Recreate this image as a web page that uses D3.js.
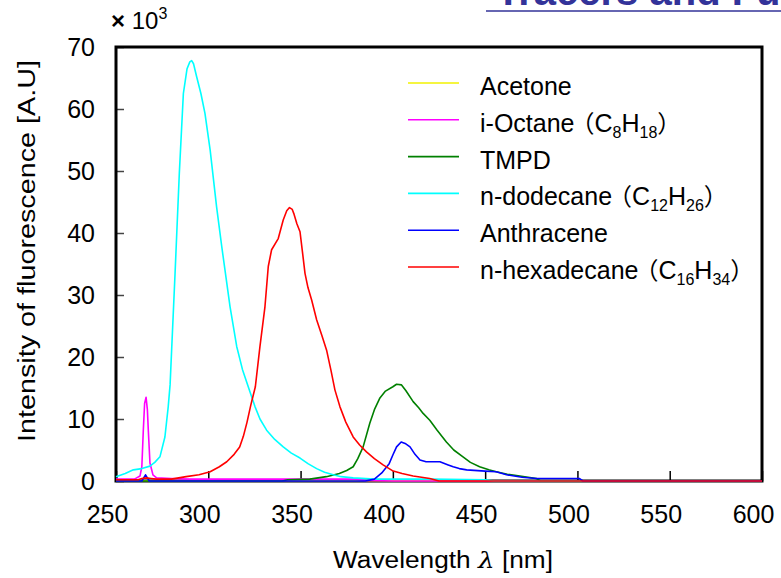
<!DOCTYPE html>
<html>
<head>
<meta charset="utf-8">
<script src="https://cdn.jsdelivr.net/npm/d3@7"></script>
<style>
  body { margin: 0; background: #fff; }
  svg { display: block; font-family: "Liberation Sans", Arial, sans-serif; }
  .axis text { font-size: 25px; fill: #000; }
</style>
</head>
<body>
<div id="graph"></div>
<script>
// wavelength [nm] and intensity [x10^3 A.U]
var acetoneWl = [250, 600];
var acetoneVal = [0.05, 0.05];

var octaneWl = [250, 260, 263, 264, 264.8, 265.5, 266.3, 267, 267.5, 268.4, 270, 272, 280, 290, 300, 380, 385, 400, 600];
var octaneVal = [0.3, 0.3, 0.8, 2.3, 8.2, 12.5, 13.5, 11.5, 8.2, 2.9, 1.0, 0.5, 0.4, 0.3, 0.3, 0.3, 0.1, 0, 0];

var tmpdWl = [250, 340, 343, 355, 364, 371, 375, 378.5, 381, 383.9, 387.5, 390, 393, 396, 400, 402, 404.7, 407, 411, 414, 416.4, 420, 424, 429, 433, 438, 442, 447, 452, 456, 462, 468.8, 477.8, 480, 600];
var tmpdVal = [0, 0, 0.2, 0.3, 0.7, 1.2, 1.7, 2.3, 3.6, 5.5, 9.3, 11.5, 13.4, 14.5, 15.2, 15.6, 15.5, 14.6, 12.8, 11.8, 10.9, 9.8, 8.2, 6.3, 5.0, 3.9, 3.0, 2.3, 1.8, 1.5, 1.1, 0.8, 0.4, 0, 0];

var dodecaneWl = [250, 255, 259.4, 264, 268.4, 271, 273.8, 276.5, 278.3, 279.3, 282, 284.3, 286.5, 288.5, 290, 291, 292, 293.7, 296, 298.2, 301, 304.5, 307.3, 311.8, 315.4, 318.5, 322.2, 325.3, 328, 331.6, 336, 340.6, 345, 349.7, 354, 358.7, 363, 367.7, 372, 378.5, 390, 420, 450, 455, 600];
var dodecaneVal = [0.7, 1.2, 1.8, 2.0, 2.4, 3.0, 3.9, 7.1, 12, 15.5, 33.5, 49.6, 62.5, 66.5, 67.6, 67.8, 67.3, 65.2, 62.5, 59.3, 53.4, 44.2, 37.8, 28.1, 21.7, 18.0, 14.7, 12, 10, 8.2, 6.7, 5.5, 4.5, 3.7, 2.8, 2.0, 1.4, 1.0, 0.7, 0.5, 0.3, 0.3, 0.2, 0, 0];

var anthraceneWl = [250, 264, 266, 268, 270, 385, 390, 394, 398, 400, 402, 404.5, 407, 409.3, 412, 414.7, 418, 425.5, 430, 432.7, 436, 440, 450, 456, 461.6, 470, 477.8, 501, 503, 600];
var anthraceneVal = [0, 0, 1.0, 0, 0, 0, 0.3, 1.3, 2.8, 4.2, 5.5, 6.3, 6.0, 5.5, 4.3, 3.4, 3.1, 3.1, 2.6, 2.3, 2.0, 1.8, 1.6, 1.5, 1.0, 0.6, 0.4, 0.4, 0, 0];

var hexadecaneWl = [250, 262, 264, 266.5, 269, 272, 280, 288, 295, 301, 306, 310, 314, 317, 319, 321, 323, 325.5, 328, 330.7, 332.5, 334.3, 337.9, 340.6, 342.5, 344, 345.5, 346.5, 348, 349.7, 351, 352.4, 354, 356, 358.7, 361.5, 364.1, 366.5, 368.6, 371.3, 374.5, 378.5, 382, 385.7, 390, 394.7, 400.2, 405, 411, 420, 425, 600];
var hexadecaneVal = [0.2, 0.2, 0.4, 0.5, 0.4, 0.3, 0.3, 0.7, 1.0, 1.5, 2.3, 3.1, 4.3, 5.5, 7.2, 9.5, 12.2, 15.2, 21.7, 28.1, 34.6, 37.3, 39.1, 42.1, 43.6, 44.1, 43.8, 43.0, 41.5, 40.2, 37, 33.5, 31.2, 29.2, 26, 23.5, 21.1, 17.8, 14.7, 12, 9.5, 7.1, 5.8, 4.7, 3.6, 2.6, 1.6, 1.2, 0.8, 0.4, 0, 0];

var seriesNames = ["Acetone", "i-Octane", "TMPD", "n-dodecane", "Anthracene", "n-hexadecane"];
var seriesColors = ["#f2f200", "#ff00ff", "#008000", "#00ffff", "#0000ff", "#ff0000"];
var xTicks = [250, 300, 350, 400, 450, 500, 550, 600];
var yTicks = [0, 10, 20, 30, 40, 50, 60, 70];

var series = [
    {name: seriesNames[0], color: seriesColors[0], wl: acetoneWl, val: acetoneVal},
    {name: seriesNames[1], color: seriesColors[1], wl: octaneWl, val: octaneVal, sub: ["8", "18"]},
    {name: seriesNames[2], color: seriesColors[2], wl: tmpdWl, val: tmpdVal},
    {name: seriesNames[3], color: seriesColors[3], wl: dodecaneWl, val: dodecaneVal, sub: ["12", "26"]},
    {name: seriesNames[4], color: seriesColors[4], wl: anthraceneWl, val: anthraceneVal},
    {name: seriesNames[5], color: seriesColors[5], wl: hexadecaneWl, val: hexadecaneVal, sub: ["16", "34"]}
];

var width = 781, height = 578;
var x = d3.scaleLinear().domain([250, 600]).range([116, 762]);
var y = d3.scaleLinear().domain([0, 70]).range([481, 47]);

var svg = d3.select("div#graph")
    .append("svg")
    .attr("width", width)
    .attr("height", height);

// cut-off slide title at the top
svg.append("text")
    .attr("x", 496)
    .attr("y", 5)
    .attr("font-size", 40)
    .attr("font-weight", "bold")
    .attr("fill", "#333399")
    .text("Tracers and Fuels");
svg.append("line")
    .attr("x1", 486).attr("x2", 781)
    .attr("y1", 11).attr("y2", 11)
    .attr("stroke", "#333399")
    .attr("stroke-width", 1.5);

// axes
var yAxis = d3.axisLeft(y).tickValues(yTicks).tickSize(-8).tickPadding(21);
svg.append("g")
    .attr("class", "axis yaxis")
    .attr("transform", "translate(116,0)")
    .call(yAxis)
    .call(g => g.select(".domain").remove())
    .call(g => g.selectAll(".tick line").attr("stroke", "#444").attr("stroke-width", 1.5));

var xAxis = d3.axisBottom(x).tickValues(xTicks).tickSize(-10).tickPadding(24);
svg.append("g")
    .attr("class", "axis xaxis")
    .attr("transform", "translate(0,481)")
    .call(xAxis)
    .call(g => g.select(".domain").remove())
    .call(g => g.selectAll(".tick line").attr("stroke", "#000").attr("stroke-width", 1.5))
    .call(g => g.selectAll(".tick text").attr("dx", -9));

// frame
svg.append("path")
    .attr("d", "M" + x(250) + "," + y(0) + "V" + y(70) + "H" + x(600) + "V" + y(0) + "Z")
    .attr("fill", "none")
    .attr("stroke", "#000")
    .attr("stroke-width", 3);

// curves
var line = d3.line()
    .x(d => x(d[0]))
    .y(d => y(d[1]));

svg.selectAll("path.series")
    .data(series)
    .enter()
    .append("path")
    .attr("class", "series")
    .attr("fill", "none")
    .attr("stroke", d => d.color)
    .attr("stroke-width", 1.6)
    .attr("stroke-linejoin", "round")
    .attr("d", d => line(d.wl.map((w, i) => [w, d.val[i]])));

// legend
var legend = svg.append("g").attr("class", "legend");
var rows = legend.selectAll("g")
    .data(series)
    .enter()
    .append("g")
    .attr("transform", (d, i) => "translate(0," + (83 + i * 36.8) + ")");
rows.append("line")
    .attr("x1", 408).attr("x2", 459)
    .attr("stroke", d => d.color)
    .attr("stroke-width", 1.6);
var labels = rows.append("text")
    .attr("x", 480)
    .attr("y", 12)
    .attr("font-size", 25);
labels.append("tspan").text(d => d.name);
labels.filter(d => d.sub).each(function(d) {
    var t = d3.select(this);
    t.append("tspan").attr("dx", -4).attr("font-family", "Noto Sans CJK JP").attr("font-size", 24).text("\uFF08");
    t.append("tspan").text("C");
    t.append("tspan").attr("font-size", 16).attr("dy", 6).text(d.sub[0]);
    t.append("tspan").attr("dy", -6).text("H");
    t.append("tspan").attr("font-size", 16).attr("dy", 6).text(d.sub[1]);
    t.append("tspan").attr("dy", -6).attr("font-family", "Noto Sans CJK JP").attr("font-size", 24).text("\uFF09");
});

// axis titles
var unit = svg.append("text")
    .attr("x", 111)
    .attr("y", 29)
    .attr("font-size", 24);
unit.append("tspan").attr("font-weight", "bold").text("\u00D7");
unit.append("tspan").text(" 10");
unit.append("tspan").attr("font-size", 16).attr("dy", -10).text("3");

svg.append("text")
    .attr("transform", "translate(35,251) rotate(-90)")
    .attr("text-anchor", "middle")
    .attr("font-size", 23)
    .attr("textLength", 382)
    .attr("lengthAdjust", "spacingAndGlyphs")
    .text("Intensity of fluorescence [A.U]");

var xl = svg.append("text")
    .attr("x", 443)
    .attr("y", 568)
    .attr("text-anchor", "middle")
    .attr("font-size", 23)
    .attr("textLength", 220)
    .attr("lengthAdjust", "spacingAndGlyphs");
xl.append("tspan").text("Wavelength ");
xl.append("tspan").attr("font-style", "italic").attr("font-family", "DejaVu Serif").text("\u03BB");
xl.append("tspan").text(" [nm]");
</script>
</body>
</html>
